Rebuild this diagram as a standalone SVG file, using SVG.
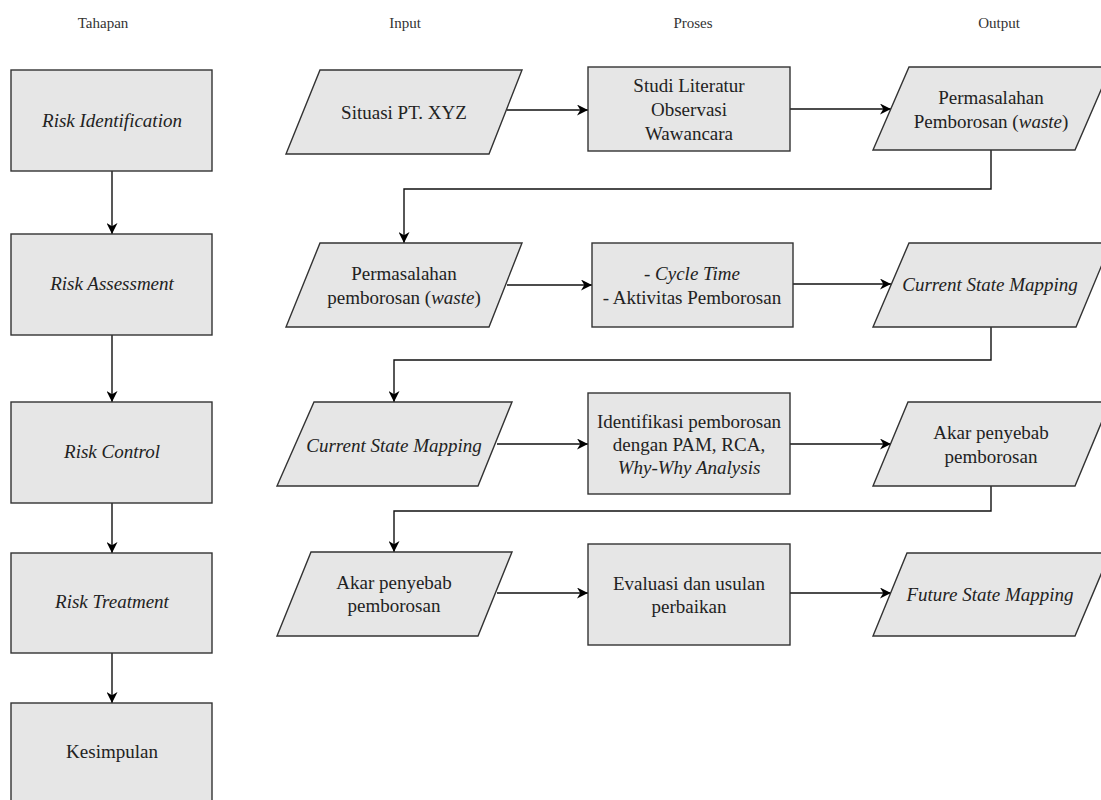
<svg xmlns="http://www.w3.org/2000/svg" width="1101" height="800" viewBox="0 0 1101 800">
<defs>
<style>
.box{fill:#e6e6e6;stroke:#333;stroke-width:1.4}
.t{font-family:"Liberation Serif","Times New Roman",serif;font-size:19px;fill:#222;text-anchor:middle}
.i{font-style:italic}
.h{font-family:"Liberation Serif","Times New Roman",serif;font-size:15px;fill:#333;text-anchor:middle}
.c{fill:none;stroke:#111;stroke-width:1.4}
</style>
<marker id="arr" viewBox="0 0 10 10" refX="10" refY="5" markerWidth="12" markerHeight="11" markerUnits="userSpaceOnUse" orient="auto">
<path d="M0,0 L10,5 L0,10 L3,5 Z" fill="#000"/>
</marker>
</defs>
<rect width="1101" height="800" fill="#fff"/>

<g id="headers">
<text class="h" x="103" y="28">Tahapan</text>
<text class="h" x="405" y="28">Input</text>
<text class="h" x="693" y="28">Proses</text>
<text class="h" x="999" y="28">Output</text>
</g>

<g id="connectors">
<path class="c" d="M112,171 V234" marker-end="url(#arr)"/>
<path class="c" d="M112,335 V402" marker-end="url(#arr)"/>
<path class="c" d="M112,503 V553" marker-end="url(#arr)"/>
<path class="c" d="M112,653 V703" marker-end="url(#arr)"/>

<path class="c" d="M507,110 H588" marker-end="url(#arr)"/>
<path class="c" d="M790,109 H891" marker-end="url(#arr)"/>
<path class="c" d="M991,150 V189 H404 V243" marker-end="url(#arr)"/>

<path class="c" d="M507,285 H592" marker-end="url(#arr)"/>
<path class="c" d="M793,284 H891" marker-end="url(#arr)"/>
<path class="c" d="M991,327 V360 H394 V402" marker-end="url(#arr)"/>

<path class="c" d="M497,444 H588" marker-end="url(#arr)"/>
<path class="c" d="M790,444 H891" marker-end="url(#arr)"/>
<path class="c" d="M991,486 V511 H394 V552" marker-end="url(#arr)"/>

<path class="c" d="M497,593 H588" marker-end="url(#arr)"/>
<path class="c" d="M790,593 H891" marker-end="url(#arr)"/>
</g>

<g id="risk-identification">
<rect class="box" x="11" y="70" width="201" height="101"/>
<text class="t i" x="112" y="127">Risk Identification</text>
</g>
<g id="risk-assessment">
<rect class="box" x="11" y="234" width="201" height="101"/>
<text class="t i" x="112" y="290">Risk Assessment</text>
</g>
<g id="risk-control">
<rect class="box" x="11" y="402" width="201" height="101"/>
<text class="t i" x="112" y="458">Risk Control</text>
</g>
<g id="risk-treatment">
<rect class="box" x="11" y="553" width="201" height="100"/>
<text class="t i" x="112" y="608">Risk Treatment</text>
</g>
<g id="kesimpulan">
<rect class="box" x="11" y="703" width="201" height="101"/>
<text class="t" x="112" y="758">Kesimpulan</text>
</g>

<g id="in1">
<polygon class="box" points="320,70 522,70 489,154 286,154"/>
<text class="t" x="404" y="119">Situasi PT. XYZ</text>
</g>
<g id="pr1">
<rect class="box" x="588" y="67" width="202" height="84"/>
<text class="t" x="689" y="92">Studi Literatur</text>
<text class="t" x="689" y="116">Observasi</text>
<text class="t" x="689" y="140">Wawancara</text>
</g>
<g id="out1">
<polygon class="box" points="909,67 1111,67 1075,150 873,150"/>
<text class="t" x="991" y="104">Permasalahan</text>
<text class="t" x="991" y="128">Pemborosan (<tspan class="i">waste</tspan>)</text>
</g>

<g id="in2">
<polygon class="box" points="320,243 522,243 489,327 286,327"/>
<text class="t" x="404" y="280">Permasalahan</text>
<text class="t" x="404" y="304">pemborosan (<tspan class="i">waste</tspan>)</text>
</g>
<g id="pr2">
<rect class="box" x="592" y="243" width="201" height="84"/>
<text class="t" x="692" y="280">- <tspan class="i">Cycle Time</tspan></text>
<text class="t" x="692" y="304">- Aktivitas Pemborosan</text>
</g>
<g id="out2">
<polygon class="box" points="909,243 1111,243 1076,327 873,327"/>
<text class="t i" x="990" y="291">Current State Mapping</text>
</g>

<g id="in3">
<polygon class="box" points="314,402 512,402 478,486 277,486"/>
<text class="t i" x="394" y="452">Current State Mapping</text>
</g>
<g id="pr3">
<rect class="box" x="588" y="393" width="202" height="101"/>
<text class="t" x="689" y="428">Identifikasi pemborosan</text>
<text class="t" x="689" y="451">dengan PAM, RCA,</text>
<text class="t i" x="689" y="474">Why-Why Analysis</text>
</g>
<g id="out3">
<polygon class="box" points="908,402 1110,402 1075,486 873,486"/>
<text class="t" x="991" y="439">Akar penyebab</text>
<text class="t" x="991" y="463">pemborosan</text>
</g>

<g id="in4">
<polygon class="box" points="311,552 512,552 478,636 277,636"/>
<text class="t" x="394" y="589">Akar penyebab</text>
<text class="t" x="394" y="612">pemborosan</text>
</g>
<g id="pr4">
<rect class="box" x="588" y="544" width="202" height="101"/>
<text class="t" x="689" y="590">Evaluasi dan usulan</text>
<text class="t" x="689" y="613">perbaikan</text>
</g>
<g id="out4">
<polygon class="box" points="907,553 1110,553 1075,636 873,636"/>
<text class="t i" x="990" y="601">Future State Mapping</text>
</g>
</svg>
